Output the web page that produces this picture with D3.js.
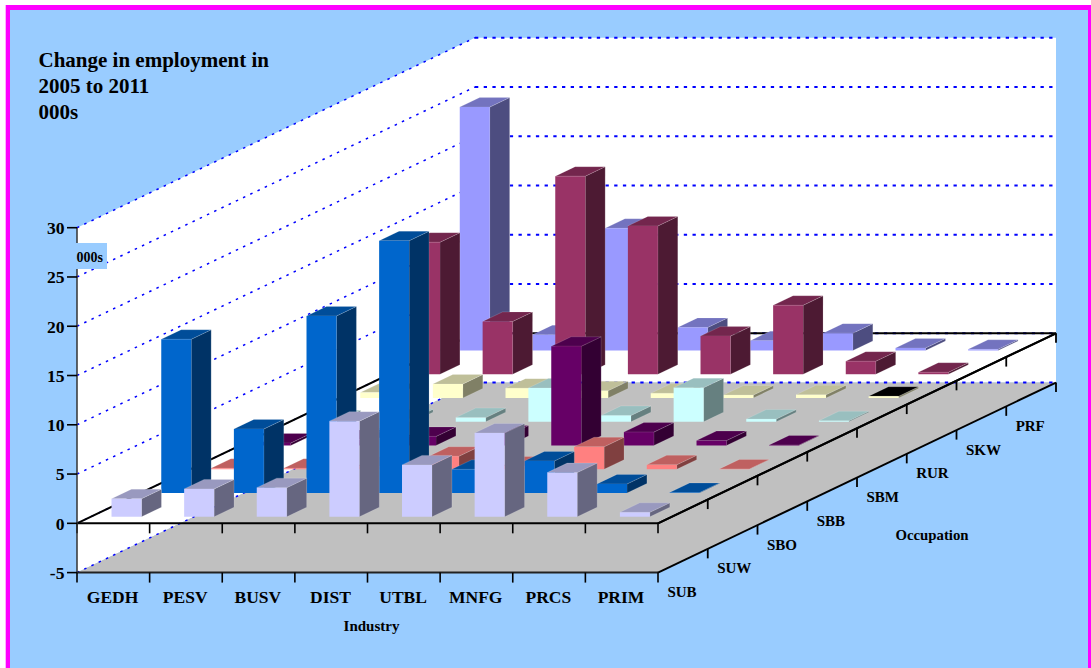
<!DOCTYPE html>
<html>
<head>
<meta charset="utf-8">
<script src="https://cdn.jsdelivr.net/npm/d3@7/dist/d3.min.js"></script>
<style>
html,body{margin:0;padding:0;background:#fff;overflow:hidden}
svg{display:block}
text{font-family:"Liberation Serif",serif;font-weight:bold;fill:#000}
</style>
</head>
<body>
<svg id="c" width="1091" height="668"></svg>
<script>
const industries = ["GEDH","PESV","BUSV","DIST","UTBL","MNFG","PRCS","PRIM"];
const occupations = ["SUB","SUW","SBO","SBB","SBM","RUR","SKW","PRF"];
const valueTicks = [-5,0,5,10,15,20,25,30];
const titleLines = ["Change in employment in","2005 to 2011","000s"];
const SUB = [1.83,2.82,2.95,9.7,5.26,8.5,4.48,0.45];
const SUW = [15.6,6.5,17.97,25.6,2.4,3.25,0.92,0.05];
const SBO = [0.1,0.1,0.3,1.32,0.33,2.28,0.45,0.03];
const SBB = [0.25,0.6,0.92,1.07,10.07,1.36,0.5,0.05];
const SBM = [0.2,0.3,0.42,3.43,0.64,3.46,0.27,0.1];
const RUR = [0.55,1.42,1.0,0.74,0.48,0.3,0.33,0.18];
const SKW = [13.4,5.36,20.1,15.05,3.87,7.0,1.32,0.2];
const PRF = [24.7,1.6,12.4,2.34,1.0,1.76,0.25,0.12];
const seriesValues = [SUB,SUW,SBO,SBB,SBM,RUR,SKW,PRF];
const seriesColors = ["#ccccff","#0066cc","#ff8080","#660066","#ccffff","#ffffcc","#993366","#9999ff"];

const svg = d3.select("#c");
const DX = 398, DY = 190;
const y = d3.scaleLinear().domain([-5,30]).range([572.6,227.7]);
const x = d3.scaleBand().domain(industries).range([77,658]);
const depth = d3.scaleBand().domain(occupations).range([0,1]);
const barW = 30, barD = 0.05, barFront = 0.0347, barInset = 20.7;
const P = (px,v,d)=>[px+d*DX, y(v)-d*DY];
const poly = pts=>pts.map(p=>p.join(",")).join(" ");
const shade = (c,k)=>{const r=d3.rgb(c);return d3.rgb(r.r*k,r.g*k,r.b*k).formatHex();};
const BLUE="#0000ff";

// page
svg.append("rect").attr("x",5.7).attr("y",5).attr("width",1090).attr("height",700).attr("fill","#ff00ff");
svg.append("rect").attr("x",10).attr("y",10).attr("width",1078).attr("height",700).attr("fill","#99ccff");

// walls and floor
const L=77,R=658;
svg.append("polygon").attr("fill","#fff")
  .attr("points",poly([P(L,30,0),P(L,30,1),P(R,30,1),P(R,-5,1),P(L,-5,1),P(L,-5,0)]));
svg.append("polygon").attr("fill","#c0c0c0")
  .attr("points",poly([P(L,-5,0),P(R,-5,0),P(R,-5,1),P(L,-5,1)]));

// gridlines
valueTicks.forEach(t=>{
  svg.append("line").attr("x1",P(L,t,0)[0]).attr("y1",P(L,t,0)[1]).attr("x2",P(L,t,1)[0]).attr("y2",P(L,t,1)[1])
    .attr("stroke",BLUE).attr("stroke-width",1.5).attr("stroke-dasharray","2.5 5.5");
  svg.append("line").attr("x1",P(L,t,1)[0]).attr("y1",P(L,t,1)[1]).attr("x2",P(R,t,1)[0]).attr("y2",P(R,t,1)[1])
    .attr("stroke",BLUE).attr("stroke-width",2).attr("stroke-dasharray","3.3 5.4");
});

// zero plane outline
const zero = svg.append("g").attr("stroke","#000").attr("stroke-width",2).attr("fill","none");
zero.append("polyline").attr("points",poly([P(L,0,0),P(L,0,1),P(R,0,1),P(R,0,0)]));

// ticks on the zero plane's and floor's right edges (under the bars)
[0,-5].forEach(t=>{
  d3.range(1,9).forEach(i=>{
    const p=P(R,t,i/8);
    svg.append("line").attr("x1",p[0]).attr("x2",p[0]).attr("y1",p[1]).attr("y2",p[1]+9.5).attr("stroke","#000").attr("stroke-width",1.8);
  });
});
svg.append("line").attr("x1",P(R,-5,0)[0]).attr("y1",P(R,-5,0)[1]).attr("x2",P(R,-5,1)[0]).attr("y2",P(R,-5,1)[1]).attr("stroke","#000").attr("stroke-width",2);

// bars, back row first
occupations.map((o,i)=>i).reverse().forEach(ri=>{
  const color = seriesColors[ri];
  const d0 = depth(occupations[ri])+barFront, d1 = d0+barD;
  const g = svg.append("g");
  g.selectAll("g").data(seriesValues[ri]).join("g").each(function(v,ci){
    const a = x(industries[ci])+barInset, b = a+barW;
    const s = d3.select(this);
    const top = ri===5 && ci===7 ? "#000000" : shade(color,.75);
    s.append("polygon").attr("fill",shade(color,.5)).attr("stroke","#fff").attr("stroke-opacity",.25).attr("stroke-width",.6)
      .attr("points",poly([P(b,0,d0),P(b,v,d0),P(b,v,d1),P(b,0,d1)]));
    s.append("polygon").attr("fill",top).attr("stroke","#fff").attr("stroke-opacity",.25).attr("stroke-width",.6)
      .attr("points",poly([P(a,v,d0),P(b,v,d0),P(b,v,d1),P(a,v,d1)]));
    s.append("polygon").attr("fill",color).attr("points",poly([P(a,0,d0),P(b,0,d0),P(b,v,d0),P(a,v,d0)]));
  });
});

// front axes
[0,-5].forEach(t=>{
  svg.append("line").attr("x1",L).attr("x2",R).attr("y1",y(t)).attr("y2",y(t)).attr("stroke",t===0?"#000":"#222").attr("stroke-width",2);
  industries.concat("end").forEach((k,i)=>{
    const px=L+i*x.step();
    svg.append("line").attr("x1",px).attr("x2",px).attr("y1",y(t)).attr("y2",y(t)+10).attr("stroke","#000").attr("stroke-width",1.6);
  });
});
svg.append("line").attr("x1",P(R,0,0)[0]).attr("y1",P(R,0,0)[1]).attr("x2",P(R,0,1)[0]).attr("y2",P(R,0,1)[1]).attr("stroke","#000").attr("stroke-width",2);

// value axis
svg.append("line").attr("x1",L).attr("x2",L).attr("y1",y(30)).attr("y2",y(-5)).attr("stroke","#333").attr("stroke-width",1.5);
valueTicks.forEach(t=>{
  svg.append("line").attr("x1",L-10).attr("x2",L).attr("y1",y(t)).attr("y2",y(t)).attr("stroke","#000").attr("stroke-width",1.6);
  svg.append("text").attr("x",64.5).attr("y",y(t)+6.3).attr("text-anchor","end").attr("font-size",17.6).text(t);
});

// 000s box
svg.append("rect").attr("x",76).attr("y",243).attr("width",31).attr("height",26).attr("fill","#99ccff");
svg.append("text").attr("x",76.5).attr("y",261.5).attr("font-size",14).text("000s");

// labels
industries.forEach(k=>{
  svg.append("text").attr("x",x(k)+x.bandwidth()/2-.7).attr("y",603).attr("text-anchor","middle").attr("font-size",17.5).text(k);
});
occupations.forEach((k,i)=>{
  const p=P(R,-5,depth(k)+depth.bandwidth()/2);
  svg.append("text").attr("x",p[0]-15.5).attr("y",p[1]+36.5).attr("text-anchor","start").attr("font-size",15).text(k);
});
svg.append("text").attr("x",371.5).attr("y",631).attr("text-anchor","middle").attr("font-size",15).text("Industry");
svg.append("text").attr("x",932).attr("y",540).attr("text-anchor","middle").attr("font-size",14.8).text("Occupation");
titleLines.forEach((t,i)=>{
  svg.append("text").attr("x",38.5).attr("y",67+i*26).attr("font-size",21).text(t);
});
</script>
</body>
</html>
